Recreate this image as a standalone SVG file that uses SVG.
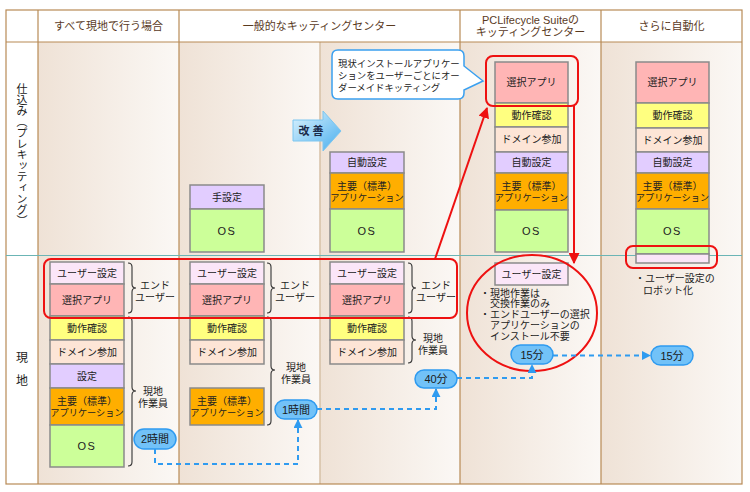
<svg xmlns="http://www.w3.org/2000/svg" width="750" height="492" viewBox="0 0 750 492">
<defs>
<linearGradient id="pan" x1="0" y1="0" x2="1" y2="0">
<stop offset="0" stop-color="#efe2d6"/>
<stop offset="1" stop-color="#fbf8f5"/>
</linearGradient>
<linearGradient id="kai" x1="0" y1="0" x2="1" y2="1">
<stop offset="0" stop-color="#dff4fe"/>
<stop offset="1" stop-color="#48aeee"/>
</linearGradient>
<marker id="ab" viewBox="0 0 10 10" refX="9" refY="5" markerWidth="9" markerHeight="9" markerUnits="userSpaceOnUse" orient="auto">
<path d="M0,0 L10,5 L0,10 z" fill="#2f9bf0"/>
</marker>
<marker id="ar" viewBox="0 0 10 10" refX="9" refY="5" markerWidth="11" markerHeight="11" markerUnits="userSpaceOnUse" orient="auto">
<path d="M0,0 L10,5 L0,10 z" fill="#ee1111"/>
</marker>
</defs>
<style>
text{font-family:"Liberation Sans","Noto Sans CJK JP",sans-serif;fill:#222;}
.t{font-size:10px;text-anchor:middle;dominant-baseline:central;}
.ts{font-size:9.2px;text-anchor:middle;dominant-baseline:central;}
.l{font-size:10px;dominant-baseline:central;}
.bl{font-size:9.4px;dominant-baseline:central;}
.h{font-size:11px;fill:#5a3a1e;text-anchor:middle;dominant-baseline:central;}
.r{font-size:12px;fill:#222;text-anchor:middle;dominant-baseline:central;}
.os{font-size:11px;letter-spacing:1.5px;text-anchor:middle;dominant-baseline:central;}
.b{stroke:#8a8a8a;stroke-width:1.5;}
.us{fill:#fbe6f8;} .se{fill:#ffb5b5;} .dv{fill:#ffff80;} .dm{fill:#fde5d6;} .st{fill:#e2cdff;} .ap{fill:#ffae00;} .og{fill:#ccff99;}
.pill{fill:#72c2f8;stroke:#2f9bf0;stroke-width:1.5;}
.pt{font-size:11px;text-anchor:middle;dominant-baseline:central;fill:#1a1a1a;}
.br{fill:none;stroke:#333;stroke-width:1.1;}
.red{fill:none;stroke:#ee1111;stroke-width:2;}
.dash{fill:none;stroke:#2f9bf0;stroke-width:2;stroke-dasharray:5 4;}
</style>
<rect x="0" y="0" width="750" height="492" fill="#ffffff"/>
<!-- table -->
<g id="table">
<rect x="38" y="42" width="141" height="442" fill="url(#pan)"/>
<rect x="179" y="42" width="141" height="442" fill="url(#pan)"/>
<rect x="320" y="42" width="140" height="442" fill="url(#pan)"/>
<rect x="460" y="42" width="141" height="442" fill="url(#pan)"/>
<rect x="601" y="42" width="141" height="442" fill="url(#pan)"/>
<line x1="320" y1="42" x2="320" y2="484" stroke="#d6c0a6" stroke-width="1.5"/>
<rect x="6" y="10" width="736" height="474" fill="none" stroke="#b88a55" stroke-width="1.2"/>
<line x1="6" y1="42" x2="742" y2="42" stroke="#b88a55" stroke-width="1.2"/>
<line x1="38" y1="10" x2="38" y2="484" stroke="#b88a55" stroke-width="1.2"/>
<line x1="179" y1="10" x2="179" y2="484" stroke="#b88a55" stroke-width="1.2"/>
<line x1="460" y1="10" x2="460" y2="484" stroke="#b88a55" stroke-width="1.2"/>
<line x1="601" y1="10" x2="601" y2="484" stroke="#b88a55" stroke-width="1.2"/>
<line x1="6" y1="255.5" x2="742" y2="255.5" stroke="#6bb5b5" stroke-width="1"/>
<text class="h" x="108.5" y="26">すべて現地で行う場合</text>
<text class="h" x="319.5" y="26">一般的なキッティングセンター</text>
<text class="h" x="530.5" y="20">PCLifecycle Suiteの</text>
<text class="h" x="530.5" y="32">キッティングセンター</text>
<text class="h" x="671.5" y="26">さらに自動化</text>
<text x="22" y="155" writing-mode="vertical-rl" style="font-family:'Noto Sans CJK JP',sans-serif;font-size:11px;text-anchor:middle">仕込み（プレキッティング）</text>
<text class="r" x="22" y="358">現</text>
<text class="r" x="22" y="381">地</text>
</g>
<!-- column: all on-site -->
<g id="col-onsite">
<rect class="b us" x="50" y="262" width="74" height="22"/><text class="t" x="87" y="273">ユーザー設定</text>
<rect class="b se" x="50" y="284" width="74" height="32"/><text class="t" x="87" y="300">選択アプリ</text>
<rect class="b dv" x="50" y="316" width="74" height="24"/><text class="t" x="87" y="328">動作確認</text>
<rect class="b dm" x="50" y="340" width="74" height="24"/><text class="t" x="87" y="352">ドメイン参加</text>
<rect class="b st" x="50" y="364" width="74" height="24"/><text class="t" x="87" y="376">設定</text>
<rect class="b ap" x="50" y="388" width="74" height="37"/><text class="t" x="87" y="401">主要（標準）</text><text class="ts" x="87" y="413">アプリケーション</text>
<rect class="b og" x="50" y="425" width="74" height="42"/><text class="os" x="87" y="446">OS</text>
<path class="br" d="M128,263 q4,0 4,4 v17 q0,4 4,4 q-4,0 -4,4 v17 q0,4 -4,4"/>
<text class="t" x="155" y="285">エンド</text><text class="t" x="155" y="297">ユーザー</text>
<path class="br" d="M128,317 q4,0 4,4 v66 q0,4 4,4 q-4,0 -4,4 v67 q0,4 -4,4"/>
<text class="t" x="153" y="391">現地</text><text class="t" x="153" y="403">作業員</text>
<rect class="pill" x="134" y="429" width="42" height="20" rx="10"/><text class="pt" x="155" y="439">2時間</text>
</g>
<!-- column: general kitting center (manual) -->
<g id="col-general-a">
<rect class="b st" x="190" y="185" width="74" height="24"/><text class="t" x="227" y="197">手設定</text>
<rect class="b og" x="190" y="209" width="74" height="43"/><text class="os" x="227" y="231">OS</text>
<rect class="b us" x="190" y="262" width="74" height="22"/><text class="t" x="227" y="273">ユーザー設定</text>
<rect class="b se" x="190" y="284" width="74" height="32"/><text class="t" x="227" y="300">選択アプリ</text>
<rect class="b dv" x="190" y="316" width="74" height="24"/><text class="t" x="227" y="328">動作確認</text>
<rect class="b dm" x="190" y="340" width="74" height="24"/><text class="t" x="227" y="352">ドメイン参加</text>
<rect class="b ap" x="190" y="388" width="74" height="37"/><text class="t" x="227" y="401">主要（標準）</text><text class="ts" x="227" y="413">アプリケーション</text>
<path class="br" d="M267,263 q4,0 4,4 v17 q0,4 4,4 q-4,0 -4,4 v17 q0,4 -4,4"/>
<text class="t" x="295" y="285">エンド</text><text class="t" x="295" y="297">ユーザー</text>
<path class="br" d="M267,317 q4,0 4,4 v45 q0,4 4,4 q-4,0 -4,4 v47 q0,4 -4,4"/>
<text class="t" x="296" y="367">現地</text><text class="t" x="296" y="379">作業員</text>
<rect class="pill" x="275" y="400" width="42" height="19" rx="9.5"/><text class="pt" x="296" y="409.5">1時間</text>
</g>
<!-- improve arrow -->
<g id="kaizen">
<path d="M293,120 H323 V111 L341,131 L323,151 V141 H293 Z" fill="url(#kai)" stroke="#7cc6f0" stroke-width="1"/>
<text x="311" y="131" style="font-size:11px;font-weight:bold;fill:#1a2a4a;text-anchor:middle;dominant-baseline:central">改 善</text>
</g>
<!-- column: general kitting center (auto) -->
<g id="col-general-b">
<rect class="b st" x="330" y="152" width="74" height="21"/><text class="t" x="367" y="162.5">自動設定</text>
<rect class="b ap" x="330" y="173" width="74" height="36"/><text class="t" x="367" y="186">主要（標準）</text><text class="ts" x="367" y="198">アプリケーション</text>
<rect class="b og" x="330" y="209" width="74" height="43"/><text class="os" x="367" y="231">OS</text>
<rect class="b us" x="330" y="262" width="74" height="22"/><text class="t" x="367" y="273">ユーザー設定</text>
<rect class="b se" x="330" y="284" width="74" height="32"/><text class="t" x="367" y="300">選択アプリ</text>
<rect class="b dv" x="330" y="316" width="74" height="24"/><text class="t" x="367" y="328">動作確認</text>
<rect class="b dm" x="330" y="340" width="74" height="24"/><text class="t" x="367" y="352">ドメイン参加</text>
<path class="br" d="M408,263 q4,0 4,4 v17 q0,4 4,4 q-4,0 -4,4 v17 q0,4 -4,4"/>
<text class="t" x="436" y="285">エンド</text><text class="t" x="436" y="297">ユーザー</text>
<path class="br" d="M408,317 q4,0 4,4 v15 q0,4 4,4 q-4,0 -4,4 v15 q0,4 -4,4"/>
<text class="t" x="433" y="338">現地</text><text class="t" x="433" y="350">作業員</text>
<rect class="pill" x="415" y="370" width="42" height="18" rx="9"/><text class="pt" x="436" y="379">40分</text>
</g>
<!-- bubble -->
<g id="bubble">
<path d="M338,50 H458 Q464,50 464,56 V66 L483,81 L464,90 V93 Q464,99 458,99 H338 Q332,99 332,93 V56 Q332,50 338,50 Z" fill="#ffffff" stroke="#3aa0f0" stroke-width="1.5"/>
<text class="bl" x="338" y="63">現状インストールアプリケー</text>
<text class="bl" x="338" y="75.5">ションをユーザーごとにオー</text>
<text class="bl" x="338" y="87.5">ダーメイドキッティング</text>
</g>
<!-- column: PCLifecycle -->
<g id="col-pcl">
<rect class="b se" x="495" y="62" width="73" height="41"/><text class="t" x="531.5" y="82.5">選択アプリ</text>
<rect class="b dv" x="495" y="103" width="73" height="24"/><text class="t" x="531.5" y="115">動作確認</text>
<rect class="b dm" x="495" y="127" width="73" height="25"/><text class="t" x="531.5" y="139.5">ドメイン参加</text>
<rect class="b st" x="495" y="152" width="73" height="21"/><text class="t" x="531.5" y="162.5">自動設定</text>
<rect class="b ap" x="495" y="173" width="73" height="37"/><text class="t" x="531.5" y="186">主要（標準）</text><text class="ts" x="531.5" y="198">アプリケーション</text>
<rect class="b og" x="495" y="210" width="73" height="42"/><text class="os" x="531.5" y="231">OS</text>
<rect class="b us" x="495" y="263" width="73" height="22"/><text class="t" x="531.5" y="274">ユーザー設定</text>
<text class="l" x="480" y="293">・現地作業は</text>
<text class="l" x="490" y="303.5">交換作業のみ</text>
<text class="l" x="480" y="314.5">・エンドユーザーの選択</text>
<text class="l" x="490" y="325.5">アプリケーションの</text>
<text class="l" x="490" y="336.5">インストール不要</text>
<rect class="pill" x="511" y="345" width="42" height="19" rx="9.5"/><text class="pt" x="532" y="354.5">15分</text>
</g>
<!-- column: further automation -->
<g id="col-auto">
<rect class="b se" x="636" y="62" width="73" height="41"/><text class="t" x="672.5" y="82.5">選択アプリ</text>
<rect class="b dv" x="636" y="103" width="73" height="25"/><text class="t" x="672.5" y="115.5">動作確認</text>
<rect class="b dm" x="636" y="128" width="73" height="24"/><text class="t" x="672.5" y="140">ドメイン参加</text>
<rect class="b st" x="636" y="152" width="73" height="21"/><text class="t" x="672.5" y="162.5">自動設定</text>
<rect class="b ap" x="636" y="173" width="73" height="36"/><text class="t" x="672.5" y="186">主要（標準）</text><text class="ts" x="672.5" y="198">アプリケーション</text>
<rect class="b og" x="636" y="209" width="73" height="45"/><text class="os" x="672.5" y="231">OS</text>
<rect class="b us" x="636" y="254" width="73" height="9"/>
<text class="l" x="635" y="278">・ユーザー設定の</text>
<text class="l" x="643" y="290">ロボット化</text>
<rect class="pill" x="651" y="346" width="42" height="19" rx="9.5"/><text class="pt" x="672" y="355.5">15分</text>
</g>
<!-- connectors and highlights -->
<g id="connectors">
<rect class="red" x="44" y="259" width="413" height="59" rx="7"/>
<rect class="red" x="486" y="56" width="92" height="50" rx="7"/>
<rect class="red" x="626" y="246" width="91" height="22" rx="7"/>
<ellipse class="red" cx="532" cy="313" rx="65" ry="58"/>
<path class="red" d="M435,259 L487,108" marker-end="url(#ar)"/>
<path class="red" d="M574,106 V263" marker-end="url(#ar)"/>
<path class="dash" d="M155,449 V464 H298 V420" marker-end="url(#ab)"/>
<path class="dash" d="M317,409 H436 V389" marker-end="url(#ab)"/>
<path class="dash" d="M457,378 H532 V365" marker-end="url(#ab)"/>
<path class="dash" d="M553,355.5 H650" marker-end="url(#ab)"/>
</g>
</svg>
